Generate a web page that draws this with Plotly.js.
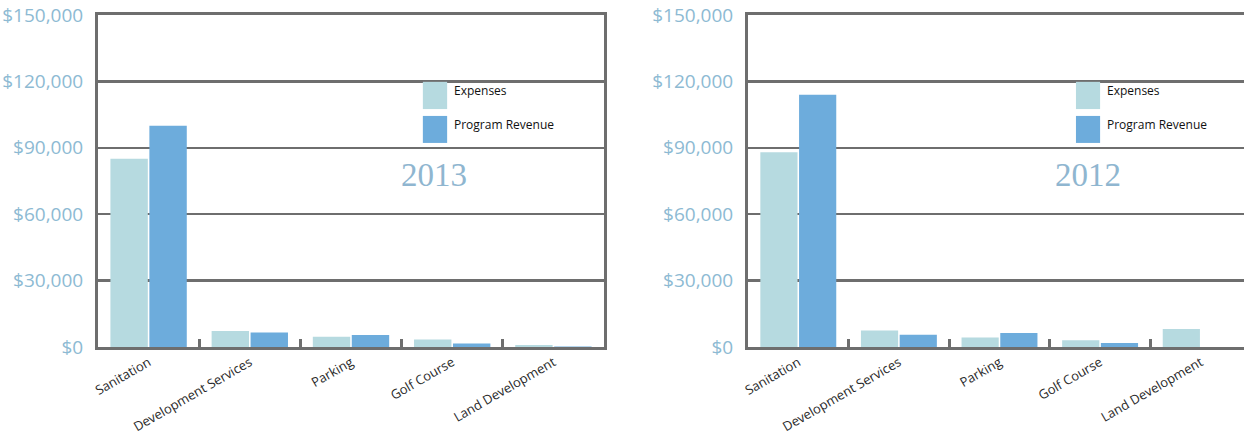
<!DOCTYPE html>
<html>
<head>
<meta charset="utf-8">
<script src="https://cdn.plot.ly/plotly-3.0.1.min.js"></script>
<style>
html,body{margin:0;padding:0;overflow:hidden;background:#fff;}
#chart{width:1262px;height:435px;}
</style>
</head>
<body>
<div id="chart"></div>
<script>
// ---- data ----
const categories = ["Sanitation", "Development Services", "Parking", "Golf Course", "Land Development"];
const expenses2013 = [85000, 7200, 4600, 3400, 900];
const revenue2013  = [100000, 6600, 5400, 1600, 250];
const expenses2012 = [88000, 7400, 4300, 3000, 8100];
const revenue2012  = [114000, 5500, 6300, 1800, 0];
const yTicks = [0, 30000, 60000, 90000, 120000, 150000];
const yTickLabels = ["$0", "$30,000", "$60,000", "$90,000", "$120,000", "$150,000"];
const seriesNames = ["Expenses", "Program Revenue"];
const yearLabels = ["2013", "2012"];

// ---- styles ----
const W = 1262;
const lightColor = "#b6dae0";
const darkColor = "#6dacdc";
const lineColor = "#6e6e6e";
const tickBlue = "#8dbad3";
const labelFont = "'Liberation Sans Narrow', 'Open Sans', Roboto, sans-serif";

const traces = [
  {type:"bar", x:categories, y:expenses2013, name:seriesNames[0], marker:{color:lightColor}, xaxis:"x", yaxis:"y", showlegend:false},
  {type:"bar", x:categories, y:revenue2013, name:seriesNames[1], marker:{color:darkColor}, xaxis:"x", yaxis:"y", showlegend:false},
  {type:"bar", x:categories, y:expenses2012, name:seriesNames[0], marker:{color:lightColor}, xaxis:"x2", yaxis:"y2", showlegend:false},
  {type:"bar", x:categories, y:revenue2012, name:seriesNames[1], marker:{color:darkColor}, xaxis:"x2", yaxis:"y2", showlegend:false}
];

function xAxis(domain, anchor){
  return {
    domain: domain, anchor: anchor, type:"category",
    showline:true, linecolor:lineColor, linewidth:3, mirror:true,
    ticks:"inside", tickson:"boundaries", ticklen:8, tickwidth:3, tickcolor:lineColor,
    tickangle:-30, tickfont:{family:labelFont, size:13, color:"#2a2a2a"},
    showgrid:false, zeroline:false, fixedrange:true
  };
}
function yAxis(anchor){
  return {
    anchor: anchor, range:[0,150000], tickmode:"array", tickvals:yTicks, ticktext:yTickLabels,
    showline:true, linecolor:lineColor, linewidth:3, mirror:true,
    showgrid:true, gridcolor:lineColor, gridwidth:2.5,
    ticks:"", ticklabelstandoff:8,
    tickfont:{family:labelFont, size:19, color:tickBlue},
    zeroline:false, fixedrange:true
  };
}

const d1 = [98/W, 604/W];
const d2 = [748/W, 1251/W];

function legendParts(xr, yr, x0){
  const shapes = [
    {type:"rect", xref:xr+" domain", yref:yr, x0:x0, x1:x0+0.048, y0:107500, y1:119800, fillcolor:lightColor, line:{width:0}},
    {type:"rect", xref:xr+" domain", yref:yr, x0:x0, x1:x0+0.048, y0:92200, y1:104400, fillcolor:darkColor, line:{width:0}}
  ];
  const anns = [
    {xref:xr+" domain", yref:yr, x:x0+0.058, y:115700, text:seriesNames[0], showarrow:false, xanchor:"left", yanchor:"middle", font:{family:labelFont, size:12, color:"#111"}},
    {xref:xr+" domain", yref:yr, x:x0+0.058, y:100700, text:seriesNames[1], showarrow:false, xanchor:"left", yanchor:"middle", font:{family:labelFont, size:12, color:"#111"}}
  ];
  return {shapes, anns};
}
const L1 = legendParts("x","y", 0.642);
const L2 = legendParts("x2","y2", 0.652);

const yearAnn = (xr, yr, txt, xp) => ({xref:xr+" domain", yref:yr, x:xp, y:77500, text:txt, showarrow:false,
  xanchor:"center", yanchor:"middle", font:{family:"'Liberation Serif', 'DejaVu Serif', serif", size:33, color:"#8fb6d0"}});

const layout = {
  width: W, height: 435,
  margin:{l:0, r:0, t:15, b:88},
  paper_bgcolor:"#fff", plot_bgcolor:"#fff",
  barmode:"group", bargap:0.23, bargroupgap:0.04,
  showlegend:false,
  xaxis: xAxis(d1, "y"),
  yaxis: yAxis("x"),
  xaxis2: xAxis(d2, "y2"),
  yaxis2: yAxis("x2"),
  shapes: L1.shapes.concat(L2.shapes),
  annotations: L1.anns.concat(L2.anns, [yearAnn("x","y",yearLabels[0],0.665), yearAnn("x2","y2",yearLabels[1],0.676)])
};

Plotly.newPlot("chart", traces, layout, {displayModeBar:false, staticPlot:true});
</script>
</body>
</html>
